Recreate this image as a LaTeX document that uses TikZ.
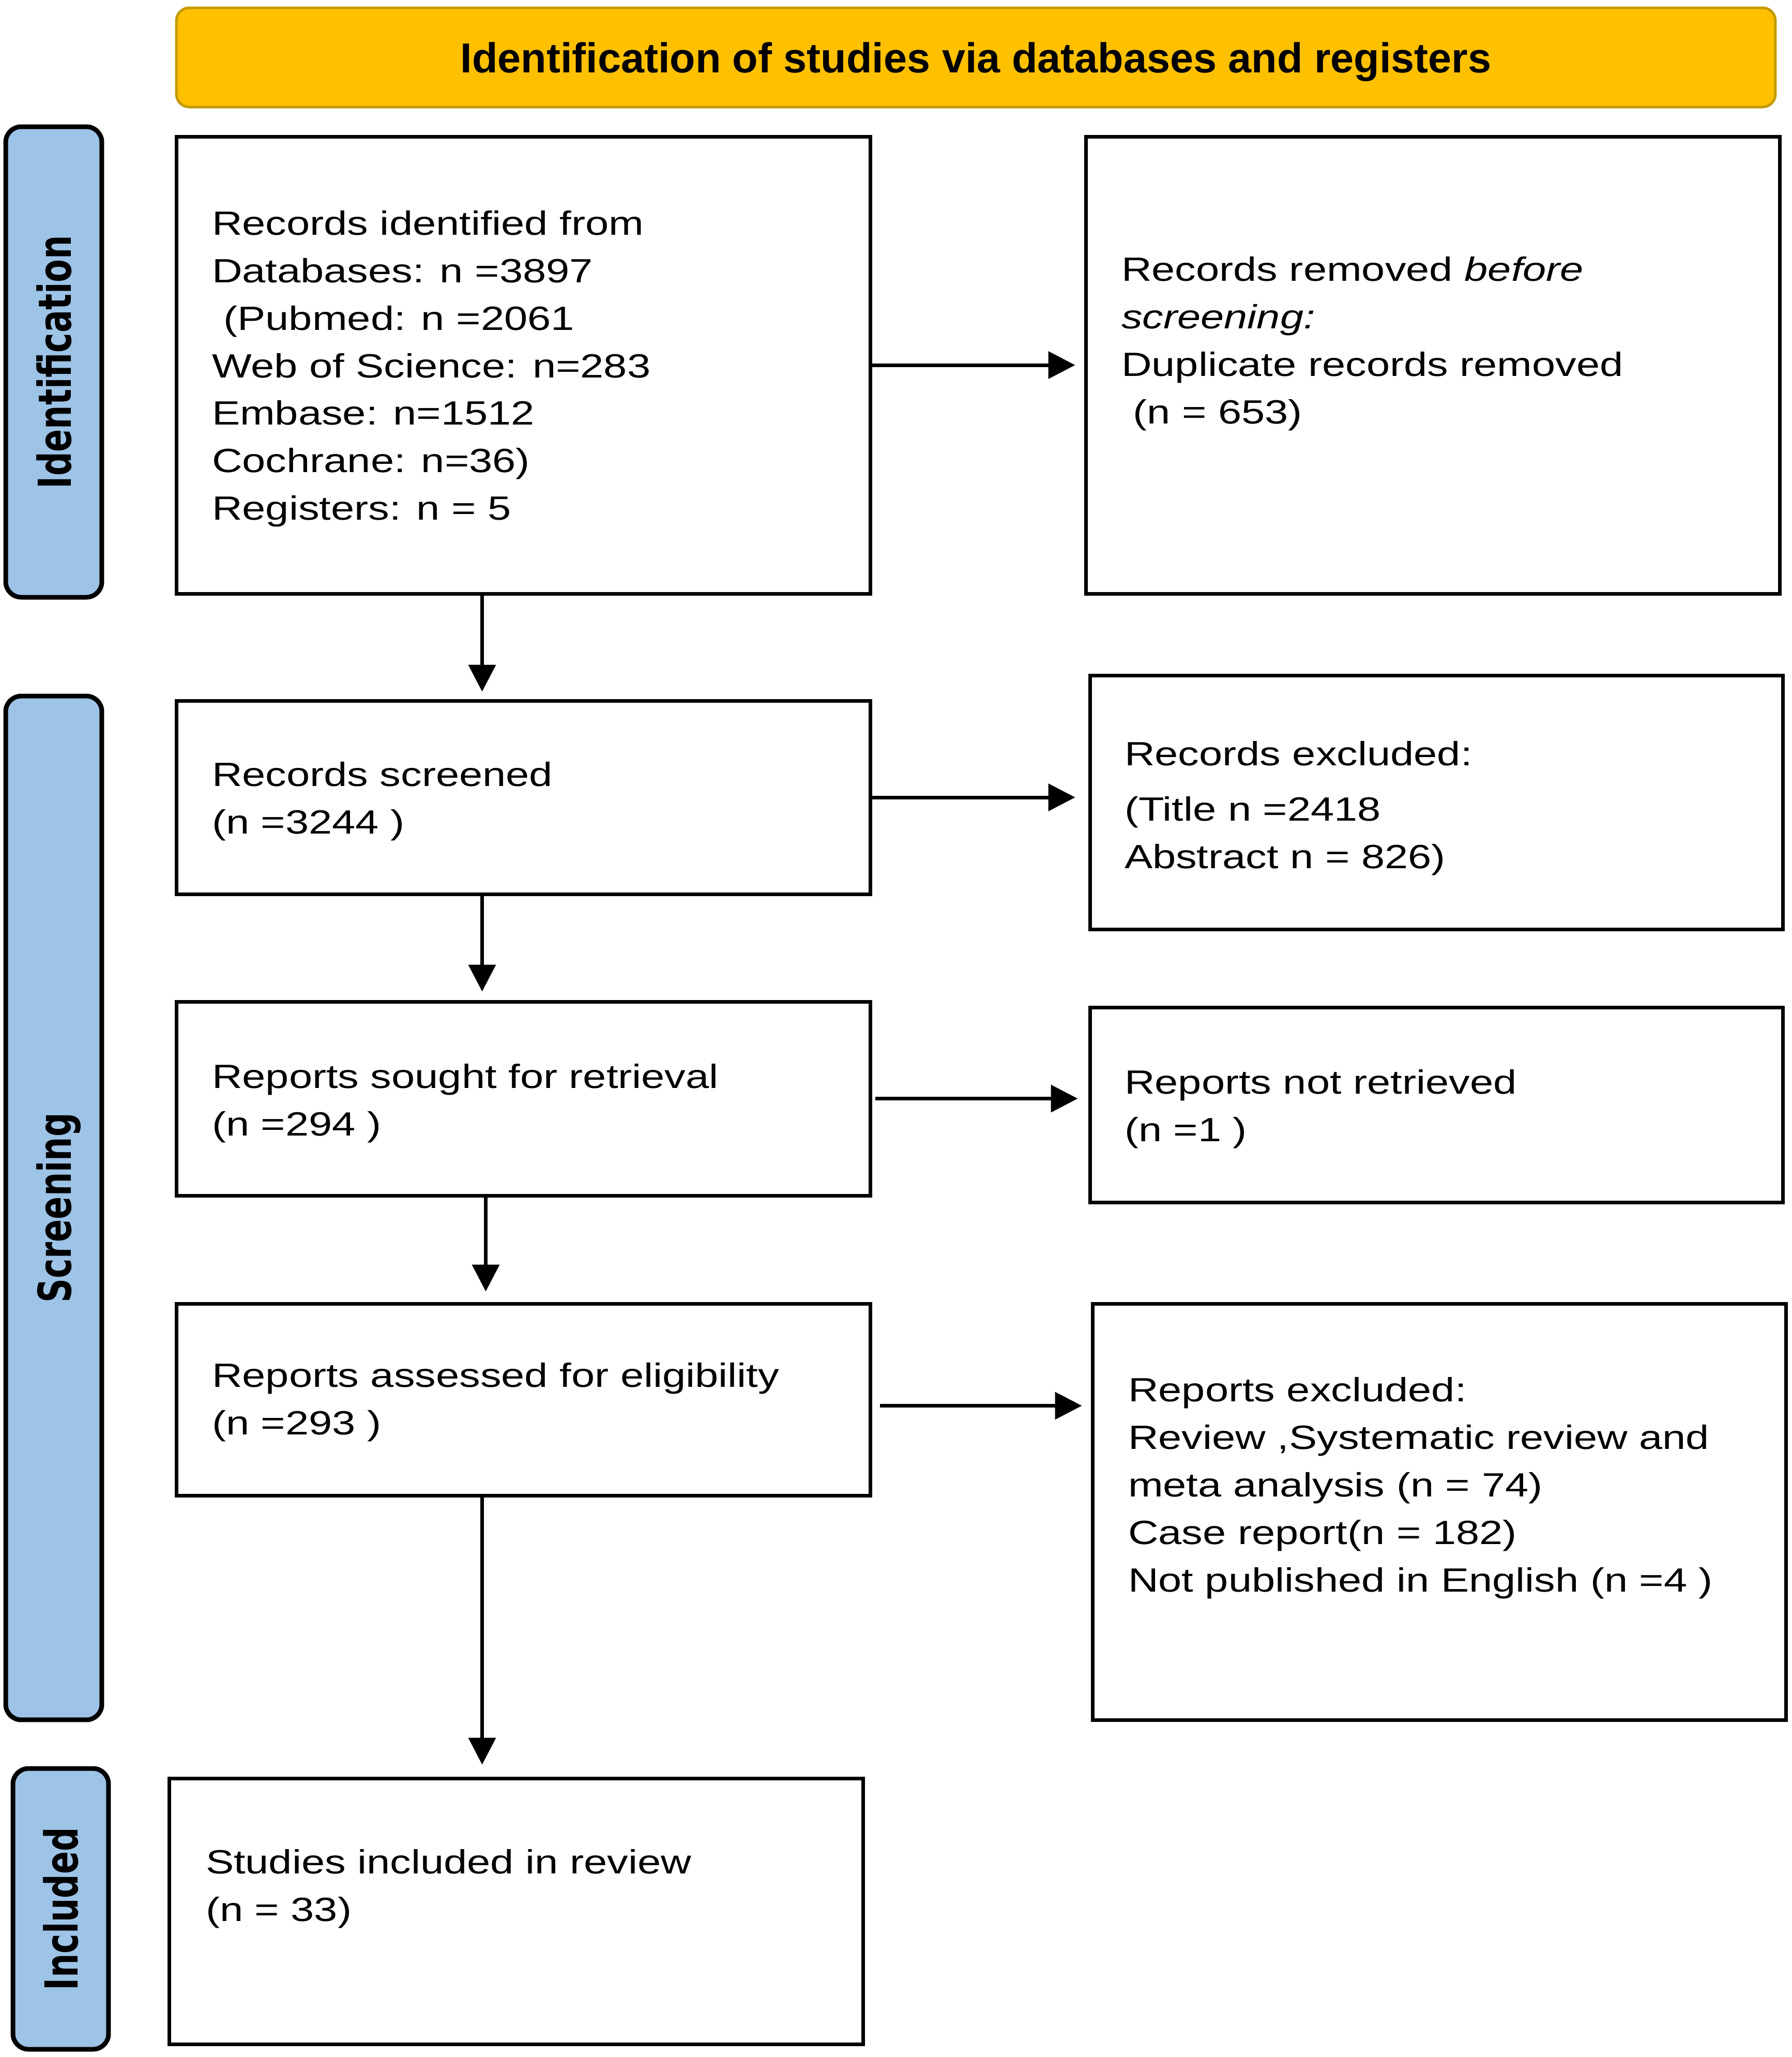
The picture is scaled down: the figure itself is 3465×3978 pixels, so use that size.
\documentclass[tikz,border=0pt]{standalone}
\usepackage{fontspec}
\setmainfont{Liberation Sans}[FakeStretch=1.25]
\newfontfamily\titlefont{Liberation Sans}
\newfontfamily\sidefont{DejaVu Sans}[FakeStretch=0.74]
\usetikzlibrary{arrows.meta}
\definecolor{gold}{HTML}{FFC000}
\definecolor{goldline}{HTML}{C49A00}
\definecolor{sideblue}{HTML}{9DC3E6}
\begin{document}
\begin{tikzpicture}[x=0.1pt,y=-0.1pt,
  box/.style={draw=black,line width=0.7pt,fill=white,inner sep=0pt},
  sidebar/.style={draw=black,line width=0.9pt,fill=sideblue,rounded corners=3pt,inner sep=0pt,rotate=90,text depth=0pt,font=\sidefont\bfseries\fontsize{8.8pt}{10pt}\selectfont},
  titlebar/.style={draw=goldline,line width=0.5pt,fill=gold,rounded corners=2.5pt,inner sep=0pt,text depth=0pt,font=\titlefont\bfseries\fontsize{8.1pt}{9pt}\selectfont},
  txt/.style={inner sep=0pt,anchor=base west,font=\fontsize{6.5pt}{9.2pt}\selectfont},
  arr/.style={line width=0.7pt,-{Triangle[length=5.2pt,width=5.2pt]}}]
\useasboundingbox (0,0) rectangle (3465,3978);
\fill[white] (0,0) rectangle (3465,3978);

% title
\node[titlebar,minimum width=309.3pt,minimum height=19.2pt] (title) at (1887.5,111) {Identification of studies via databases and registers};

% side bars
\node[sidebar,minimum width=91pt,minimum height=18.6pt] (sid) at (104,700) {Identification};
\node[sidebar,minimum width=198pt,minimum height=18.6pt] (ssc) at (104,2336) {Screening};
\node[sidebar,minimum width=54.3pt,minimum height=18.5pt] (sin) at (117.5,3691.5) {Included};

% boxes
\node[box,minimum width=134.3pt,minimum height=88.4pt] (b1) at (1012.5,706) {};
\node[box,minimum width=134.3pt,minimum height=88.4pt] (r1) at (2771.5,706) {};
\node[box,minimum width=134.3pt,minimum height=37.4pt] (b2) at (1012.5,1542) {};
\node[box,minimum width=134.1pt,minimum height=49.1pt] (r2) at (2778.5,1551.5) {};
\node[box,minimum width=134.3pt,minimum height=37.5pt] (b3) at (1012.5,2124.5) {};
\node[box,minimum width=134.1pt,minimum height=37.7pt] (r3) at (2778.5,2136.5) {};
\node[box,minimum width=134.3pt,minimum height=37.1pt] (b4) at (1012.5,2706.5) {};
\node[box,minimum width=134.2pt,minimum height=80.5pt] (r4) at (2784,2923.5) {};
\node[box,minimum width=134.3pt,minimum height=51.4pt] (b5) at (998.5,3696) {};

% texts
\node[txt] (t1) at (408,454) {\vtop{\hbox{Records identified from}\hbox{Databases: n =3897}\hbox{\ (Pubmed: n =2061}\hbox{Web of Science: n=283}\hbox{Embase: n=1512}\hbox{Cochrane: n=36)}\hbox{Registers: n = 5}}};
\node[txt] (u1) at (2167,543) {\vtop{\hbox{Records removed \textit{before}}\hbox{\textit{screening:}}\hbox{Duplicate records removed}\hbox{\ (n = 653)}}};
\node[txt] (t2) at (408,1520) {\vtop{\hbox{Records screened}\hbox{(n =3244 )}}};
\node[txt] (u2) at (2173,1480) {\vtop{\hbox{Records excluded:}\kern1.5pt\hbox{(Title n =2418}\hbox{Abstract n = 826)}}};
\node[txt] (t3) at (408,2104) {\vtop{\hbox{Reports sought for retrieval}\hbox{(n =294 )}}};
\node[txt] (u3) at (2173,2115) {\vtop{\hbox{Reports not retrieved}\hbox{(n =1 )}}};
\node[txt] (t4) at (408,2682) {\vtop{\hbox{Reports assessed for eligibility}\hbox{(n =293 )}}};
\node[txt] (u4) at (2180,2710) {\vtop{\hbox{Reports excluded:}\hbox{Review ,Systematic review and}\hbox{meta analysis (n = 74)}\hbox{Case report(n = 182)}\hbox{Not published in English (n =4 )}}};
\node[txt] (t5) at (396,3623) {\vtop{\hbox{Studies included in review}\hbox{(n = 33)}}};

% vertical arrows
\coordinate (a1) at ([xshift=-8pt]b1.south);
\coordinate (a2) at ([xshift=-8pt]b2.south);
\coordinate (a3) at ([xshift=-7.3pt]b3.south);
\coordinate (a4) at ([xshift=-8pt]b4.south);
\draw[arr,shorten >=1.4pt] (a1) -- (a1 |- b2.north);
\draw[arr,shorten >=1.6pt] (a2) -- (a2 |- b3.north);
\draw[arr,shorten >=2pt] (a3) -- (a3 |- b4.north);
\draw[arr,shorten >=2.3pt] (a4) -- (a4 |- b5.north);

% horizontal arrows
\draw[arr,shorten >=1.7pt] (b1.east) -- (b1.east -| r1.west);
\draw[arr,shorten >=2.5pt] (b2.east) -- (b2.east -| r2.west);
\draw[arr,shorten >=2pt,shorten <=0.6pt] (b3.east) -- (b3.east -| r3.west);
\draw[arr,shorten >=1.7pt,shorten <=1.5pt] ([yshift=-1.2pt]b4.east) -- ([yshift=-1.2pt]b4.east -| r4.west);
\end{tikzpicture}
\end{document}
